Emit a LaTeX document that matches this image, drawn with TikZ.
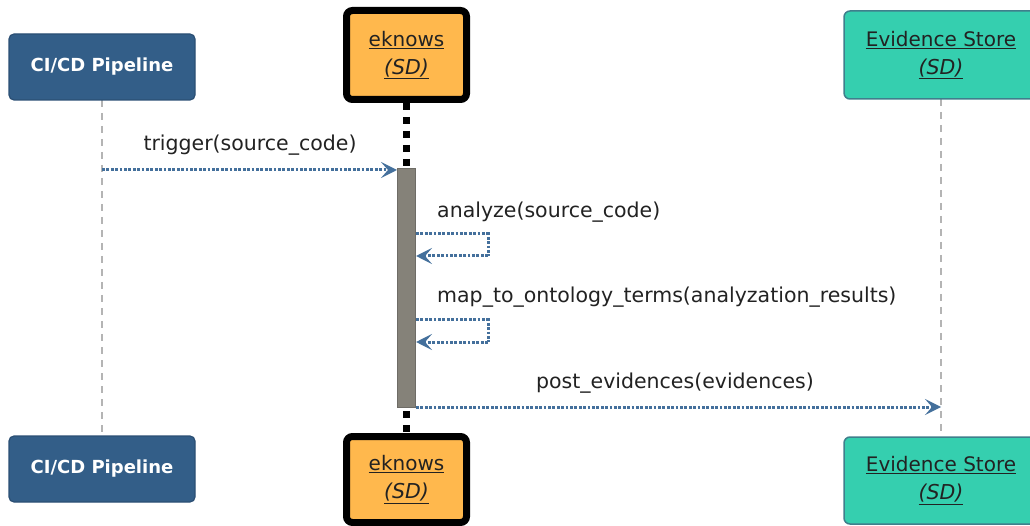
\documentclass[tikz,border=0pt]{standalone}
\usepackage{fontspec}
\setmainfont{DejaVu Sans}
\usetikzlibrary{arrows.meta}
\definecolor{pipeblue}{HTML}{335E88}
\definecolor{pipeedge}{HTML}{2B4F74}
\definecolor{orangefill}{HTML}{FFB84D}
\definecolor{tealfill}{HTML}{35CFAF}
\definecolor{tealedge}{HTML}{3F7F8C}
\definecolor{msgblue}{HTML}{44709C}
\definecolor{bargray}{HTML}{858279}
\definecolor{baredge}{HTML}{6E6C66}
\definecolor{lifegray}{HTML}{B4B4B4}
\definecolor{labeltext}{HTML}{222222}
\newcommand{\sdtag}{{\fontsize{20.5}{27}\selectfont\itshape\underline{(SD)}}}
\tikzset{
  pipebox/.style={draw=pipeedge, line width=1.2pt, fill=pipeblue, rounded corners=5pt,
    minimum width=186pt, minimum height=66pt, text=white, inner sep=0pt,
    font=\fontsize{18}{22}\selectfont\bfseries},
  eknowsbox/.style={draw=black, line width=7pt, fill=orangefill, rounded corners=6pt,
    minimum width=120pt, inner sep=0pt, align=center, text=labeltext,
    font=\fontsize{20}{24}\selectfont},
  storebox/.style={draw=tealedge, line width=1.5pt, fill=tealfill, rounded corners=6pt,
    minimum width=194pt, inner sep=0pt, align=center, text=labeltext,
    font=\fontsize{20}{24}\selectfont},
  lifeline/.style={draw=lifegray, line width=1.5pt, dash pattern=on 7pt off 6pt},
  mainline/.style={draw=black, line width=7pt, dash pattern=on 7pt off 7pt},
  actbar/.style={draw=baredge, line width=1pt, fill=bargray},
  msg/.style={draw=msgblue, line width=3pt, dash pattern=on 2.8pt off 1.6pt,
    -{Stealth[length=16pt, width=16pt, inset=7pt]}},
  msgloop/.style={draw=msgblue, line width=3pt, dash pattern=on 2.8pt off 1.6pt},
  msglabel/.style={text=labeltext, inner sep=0pt, font=\fontsize{20.5}{24}\selectfont}
}
\begin{document}
\begin{tikzpicture}[x=1pt, y=-1pt]
  \useasboundingbox (0,0) rectangle (1030,526);

  % lifelines
  \coordinate (pipeTopEnd) at (102,100);
  \coordinate (pipeBotEnd) at (102,436);
  \coordinate (storeTopEnd) at (941,99);
  \coordinate (storeBotEnd) at (941,437);
  \coordinate (ekTopEnd) at (406,103);
  \coordinate (ekBotEnd) at (406,434);
  \draw[lifeline] (pipeTopEnd) -- (pipeBotEnd);
  \draw[lifeline] (storeTopEnd) -- (storeBotEnd);
  \draw[mainline] (ekTopEnd) -- (ekBotEnd);

  % activation bar of eknows
  \node[actbar, minimum width=18pt, minimum height=239pt, inner sep=0pt, anchor=north]
    (bar) at (406.5,168) {};

  % trigger
  \coordinate (trigStart) at (102,170);
  \draw[msg] (trigStart) -- (bar.north west |- trigStart);
  \node[msglabel] (trigLbl) at (250,145) {trigger(source\_code)};

  % analyze self call
  \coordinate (anOut) at (bar.east |- 0,234);
  \coordinate (anIn) at (bar.east |- 0,256);
  \draw[msgloop] (anOut) -- (488,234) -- (488,256);
  \draw[msg] (488,256) -- (anIn);
  \node[msglabel, anchor=west] (anLbl) at (437,212) {analyze(source\_code)};

  % map_to_ontology_terms self call
  \coordinate (mpOut) at (bar.east |- 0,320);
  \coordinate (mpIn) at (bar.east |- 0,342);
  \draw[msgloop] (mpOut) -- (488,320) -- (488,342);
  \draw[msg] (488,342) -- (mpIn);
  \node[msglabel, anchor=west] (mpLbl) at (437,297) {map\_to\_ontology\_terms(analyzation\_results)};

  % post_evidences
  \coordinate (postStart) at (bar.east |- 0,407);
  \coordinate (postEnd) at (941,407);
  \draw[msg] (postStart) -- (postEnd);
  \node[msglabel] (postLbl) at (675,383) {post\_evidences(evidences)};

  % participant heads
  \node[pipebox] (pipeTop) at (102,67) {CI/CD Pipeline};
  \node[pipebox] (pipeBot) at (102,469) {CI/CD Pipeline};
  \node[eknowsbox, minimum height=89pt] (ekTop) at (406.5,55)
    {\underline{eknows}\\[4pt]\sdtag};
  \node[eknowsbox, minimum height=86pt] (ekBot) at (406.5,479.5)
    {\underline{eknows}\\[4pt]\sdtag};
  \node[storebox, minimum height=88pt] (storeTop) at (941,55)
    {\underline{Evidence Store}\\[4pt]\sdtag};
  \node[storebox, minimum height=87pt] (storeBot) at (941,480.5)
    {\underline{Evidence Store}\\[4pt]\sdtag};
\end{tikzpicture}
\end{document}
